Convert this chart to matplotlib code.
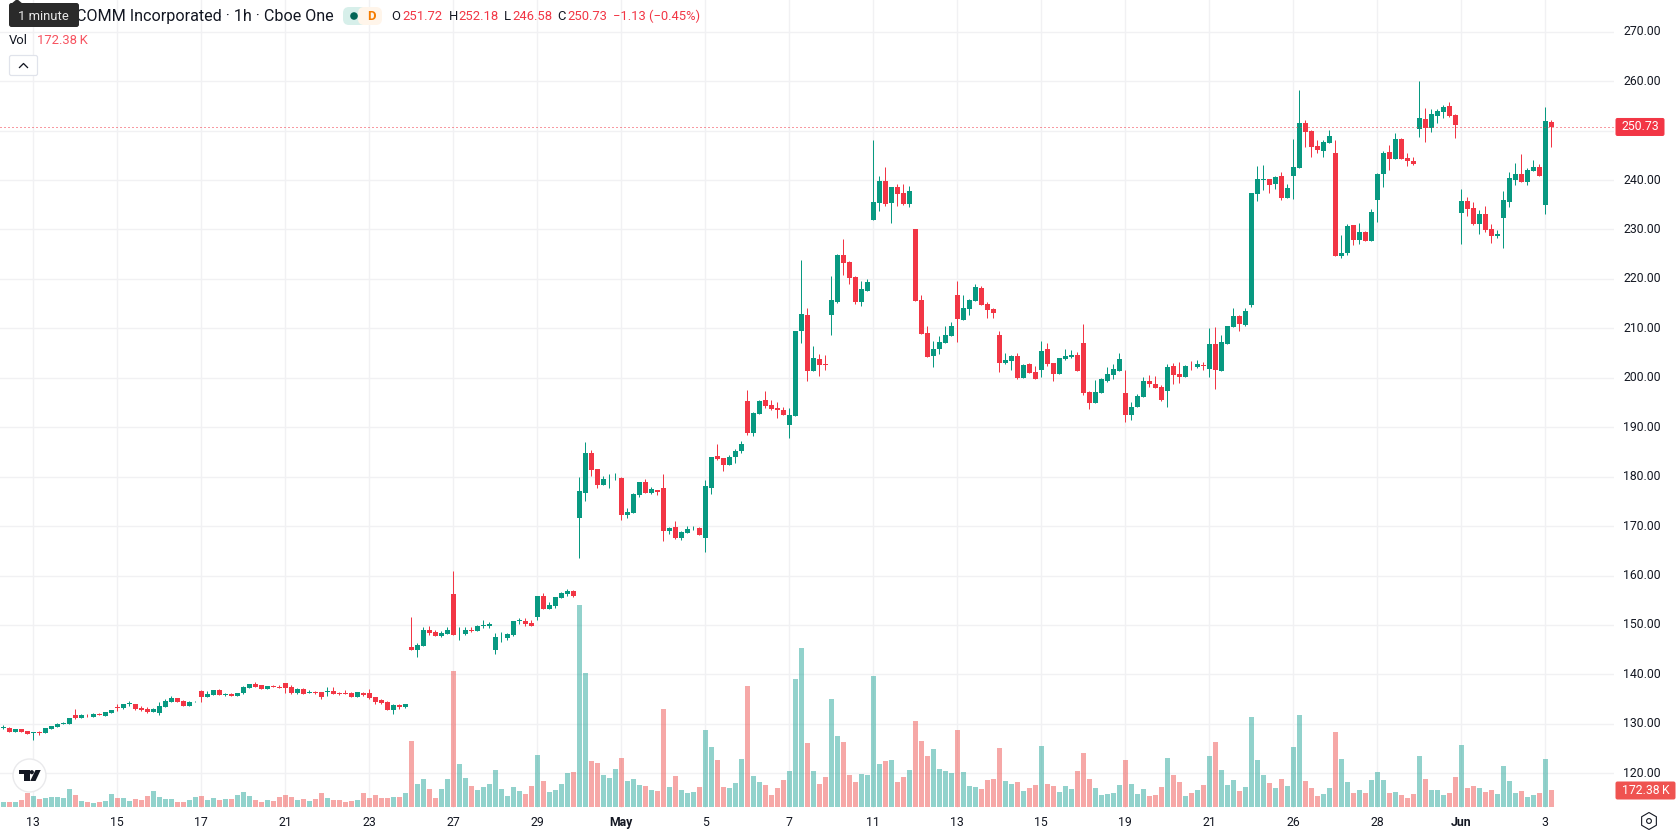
import matplotlib
matplotlib.use("Agg")
import matplotlib.pyplot as plt
from matplotlib.patches import Rectangle, FancyBboxPatch, Circle, Polygon, RegularPolygon
import numpy as np

plt.rcParams['font.family'] = ['Roboto', 'DejaVu Sans']

# hourly bars, oldest first
opens = [
    129.2, 129.2, 128.33, 128.87, 128.47, 128.13, 128.27, 128.13, 128.87, 129.27,
    129.93, 130.07, 131.87, 131.27, 131.87, 131.47, 132.07, 131.67, 132.27, 133.4,
    133.27, 134.0, 134.07, 133.27, 133.07, 132.47, 132.27, 133.47, 134.47, 135.27,
    134.67, 133.67, 134.33, 136.67, 135.47, 135.87, 136.87, 135.93, 136.07, 135.67,
    136.27, 137.27, 138.07, 137.87, 137.07, 137.67, 137.47, 138.27, 137.47, 136.27,
    137.07, 136.27, 136.47, 136.47, 136.53, 136.67, 136.27, 136.27, 136.27, 135.47,
    136.27, 136.27, 135.47, 134.87, 134.47, 132.87, 133.87, 133.47, 145.62, 145.0,
    145.8, 149.06, 148.65, 147.84, 148.25, 156.34, 148.3, 148.25, 149.06, 148.85,
    149.87, 149.87, 145.0, 147.5, 147.44, 148.04, 150.8, 150.88, 150.47, 151.69,
    155.93, 153.3, 153.91, 155.53, 156.34, 156.95, 171.71, 176.77, 184.86, 181.63,
    178.39, 179.47, 179.67, 179.8, 172.32, 172.72, 176.37, 179.0, 176.77, 177.38,
    177.78, 169.08, 169.89, 167.67, 168.68, 169.55, 169.69, 167.67, 177.78, 184.26,
    183.85, 182.43, 184.05, 185.27, 195.21, 188.74, 192.58, 195.41, 194.4, 193.8,
    193.39, 190.36, 192.18, 209.37, 212.61, 201.28, 203.71, 202.7, 212.61, 215.24,
    224.75, 223.33, 220.3, 215.24, 217.46, 231.83, 235.27, 239.72, 235.27, 238.5,
    237.29, 235.06, 230.0, 215.64, 208.97, 204.32, 205.73, 206.95, 208.36, 216.66,
    211.6, 213.82, 215.44, 218.07, 214.83, 213.82, 208.56, 202.9, 203.3, 204.32,
    199.87, 202.7, 201.08, 201.48, 205.73, 202.9, 200.67, 203.71, 204.11, 204.52,
    206.95, 197.03, 194.81, 196.83, 199.26, 200.47, 201.28, 196.83, 192.38, 194.0,
    196.02, 199.26, 198.65, 198.04, 197.24, 202.29, 200.67, 200.07, 202.2, 202.09,
    202.5, 201.69, 206.74, 201.28, 206.74, 210.18, 212.41, 210.59, 214.63, 237.09,
    239.92, 240.12, 239.11, 240.73, 236.28, 240.73, 242.35, 251.45, 249.83, 246.8,
    245.79, 247.4, 245.38, 224.55, 225.15, 230.82, 227.78, 229.4, 227.58, 235.87,
    241.13, 245.58, 244.17, 248.21, 244.37, 243.76, 250.24, 252.26, 250.44, 252.87,
    253.67, 254.89, 253.07, 233.24, 235.67, 234.25, 231.02, 233.04, 230.01, 228.59,
    232.23, 235.47, 239.92, 241.13, 239.51, 241.74, 242.55, 234.86, 251.72,
]
highs = [
    129.67, 129.4, 128.87, 128.87, 128.47, 128.27, 128.6, 129.07, 129.6, 130.27,
    130.47, 131.27, 133.07, 132.07, 132.07, 132.27, 132.2, 132.47, 132.87, 134.07,
    134.07, 134.53, 134.07, 133.67, 133.47, 133.27, 134.47, 135.07, 135.67, 135.27,
    134.87, 134.67, 134.67, 136.87, 136.67, 136.87, 137.07, 136.27, 136.27, 136.27,
    137.67, 138.07, 138.47, 137.87, 137.67, 137.87, 137.87, 138.27, 137.87, 137.27,
    137.27, 136.87, 136.67, 136.47, 137.47, 137.47, 136.47, 136.87, 136.47, 136.47,
    136.47, 137.07, 135.47, 135.07, 134.67, 134.07, 134.07, 134.07, 151.69, 146.4,
    149.66, 149.87, 149.06, 148.85, 149.66, 161.0, 149.66, 149.66, 149.66, 150.07,
    151.08, 150.67, 148.45, 148.65, 148.45, 150.88, 151.48, 151.48, 151.08, 155.93,
    156.54, 154.72, 155.73, 156.74, 157.35, 157.15, 180.0, 187.09, 185.47, 181.63,
    180.2, 180.61, 180.82, 180.0, 173.74, 176.77, 179.0, 179.6, 177.98, 177.38,
    180.61, 169.89, 171.11, 169.08, 170.09, 170.09, 169.89, 179.4, 184.05, 186.68,
    183.85, 184.46, 185.67, 187.29, 197.44, 192.99, 195.41, 197.24, 195.41, 195.01,
    194.0, 193.8, 209.37, 223.74, 214.03, 206.34, 204.72, 204.52, 220.5, 224.95,
    227.98, 223.53, 220.5, 219.49, 219.89, 248.01, 240.73, 242.55, 238.5, 239.11,
    239.11, 238.71, 230.0, 216.66, 210.38, 207.35, 208.36, 210.38, 211.19, 219.49,
    216.66, 215.85, 218.88, 218.48, 215.24, 214.03, 209.37, 204.92, 204.52, 204.92,
    202.7, 202.9, 202.29, 207.35, 206.95, 202.9, 203.91, 205.73, 205.53, 205.12,
    210.79, 197.24, 199.46, 199.87, 202.09, 202.7, 204.92, 201.48, 195.01, 196.63,
    200.07, 200.47, 200.27, 198.45, 202.7, 202.9, 203.1, 202.49, 203.3, 203.51,
    203.1, 209.98, 210.18, 208.56, 210.38, 214.03, 212.61, 214.03, 237.29, 242.75,
    242.95, 240.12, 240.73, 241.54, 239.11, 248.21, 258.13, 252.06, 250.03, 248.01,
    248.01, 250.03, 248.01, 228.79, 231.02, 230.82, 231.22, 229.6, 234.05, 241.33,
    245.79, 247.0, 249.43, 248.41, 245.38, 244.57, 259.95, 254.48, 254.28, 254.28,
    255.09, 255.7, 253.27, 238.1, 236.48, 235.47, 233.85, 234.66, 231.02, 229.8,
    237.69, 241.54, 243.36, 245.18, 242.35, 243.96, 243.16, 254.69, 252.18,
]
lows = [
    128.87, 128.33, 128.33, 128.33, 127.93, 126.73, 127.73, 128.13, 128.87, 129.27,
    129.93, 130.07, 131.0, 131.27, 131.47, 131.47, 131.73, 131.67, 132.27, 132.67,
    133.07, 133.67, 132.87, 132.67, 132.27, 132.47, 131.87, 133.47, 134.47, 134.47,
    133.67, 133.67, 134.33, 134.47, 135.47, 135.87, 135.87, 135.67, 135.67, 135.67,
    136.07, 137.27, 137.47, 137.07, 137.07, 137.47, 137.27, 136.27, 136.07, 136.07,
    136.07, 136.27, 136.07, 135.07, 135.67, 136.07, 135.87, 136.07, 135.47, 135.47,
    135.67, 135.07, 134.07, 134.07, 132.87, 132.07, 133.07, 133.27, 145.0, 143.6,
    145.8, 148.04, 147.84, 147.64, 148.25, 148.04, 147.03, 148.04, 148.65, 148.85,
    149.46, 149.46, 144.2, 146.63, 147.03, 147.84, 150.27, 149.87, 149.87, 151.08,
    153.3, 153.3, 153.51, 155.53, 155.93, 155.73, 163.62, 175.15, 180.2, 177.78,
    178.39, 177.78, 179.4, 171.31, 171.71, 172.72, 175.96, 176.77, 176.57, 176.37,
    167.06, 168.48, 167.46, 167.26, 168.68, 169.28, 168.27, 164.83, 176.57, 183.45,
    181.22, 182.43, 182.84, 184.86, 188.33, 188.13, 192.58, 193.8, 193.39, 191.77,
    192.38, 187.73, 192.18, 206.95, 199.26, 201.28, 200.27, 201.48, 208.56, 215.04,
    220.7, 218.88, 214.83, 214.43, 217.46, 231.83, 233.65, 234.66, 231.22, 234.66,
    234.86, 234.46, 215.44, 208.77, 204.11, 202.09, 204.72, 206.95, 208.36, 207.15,
    211.6, 212.61, 215.44, 214.63, 212.0, 212.0, 201.08, 202.7, 201.48, 199.66,
    199.87, 200.88, 199.66, 200.07, 202.29, 199.26, 200.67, 203.51, 203.91, 201.28,
    196.43, 193.59, 194.81, 196.83, 199.06, 199.66, 201.28, 190.96, 191.37, 194.0,
    196.02, 198.04, 197.84, 195.21, 194.0, 198.65, 198.85, 200.07, 201.48, 201.89,
    201.48, 200.07, 197.64, 201.28, 206.74, 210.18, 209.37, 210.38, 214.23, 235.67,
    237.9, 237.29, 238.1, 235.87, 236.28, 236.08, 242.35, 246.6, 244.57, 245.38,
    244.57, 247.4, 224.55, 224.14, 224.75, 226.77, 226.97, 227.58, 227.58, 231.42,
    238.5, 241.94, 244.17, 244.17, 242.75, 242.95, 248.62, 247.61, 249.63, 251.45,
    252.46, 252.66, 248.41, 226.97, 232.64, 230.82, 229.0, 229.4, 227.18, 228.19,
    226.16, 234.46, 238.91, 239.51, 238.91, 241.74, 240.73, 233.04, 246.58,
]
closes = [
    129.3, 128.33, 128.87, 128.33, 127.93, 128.27, 128.13, 129.07, 129.47, 130.07,
    130.27, 131.27, 131.2, 131.87, 131.73, 132.07, 131.73, 132.47, 132.87, 133.27,
    134.07, 134.13, 133.07, 132.87, 132.47, 133.07, 133.67, 134.67, 135.27, 134.47,
    133.67, 134.47, 134.47, 135.47, 136.07, 136.87, 135.87, 136.07, 135.67, 136.27,
    137.47, 138.07, 137.47, 137.07, 137.67, 137.47, 137.27, 137.27, 136.27, 137.07,
    136.07, 136.47, 136.27, 135.47, 136.67, 136.07, 136.07, 136.07, 135.47, 136.47,
    135.87, 135.27, 134.47, 134.27, 132.87, 133.87, 133.47, 134.07, 145.01, 146.0,
    149.06, 148.45, 147.84, 148.45, 149.06, 148.04, 148.45, 149.06, 148.85, 149.87,
    150.0, 150.27, 147.64, 147.64, 148.25, 150.88, 150.94, 150.27, 149.87, 155.93,
    153.3, 154.11, 155.73, 156.54, 156.95, 155.93, 177.17, 184.86, 181.42, 178.39,
    179.6, 179.6, 179.8, 172.32, 172.93, 176.57, 179.0, 176.77, 177.58, 176.97,
    169.08, 169.69, 167.67, 168.88, 169.49, 169.69, 168.27, 178.19, 184.05, 183.65,
    182.43, 184.05, 185.27, 186.68, 188.74, 192.78, 195.21, 194.2, 193.59, 193.39,
    192.38, 192.38, 209.37, 212.81, 201.28, 203.91, 202.49, 202.49, 215.64, 224.75,
    223.13, 220.09, 215.24, 217.87, 219.29, 235.47, 239.72, 235.06, 238.5, 237.09,
    235.06, 237.69, 215.44, 208.77, 204.11, 205.73, 207.15, 208.56, 210.38, 211.8,
    214.03, 215.64, 218.27, 214.63, 213.62, 213.01, 202.9, 203.51, 204.32, 199.87,
    202.49, 200.88, 199.66, 205.33, 202.7, 200.67, 203.91, 204.32, 204.52, 201.28,
    196.83, 194.81, 197.03, 199.66, 200.67, 201.69, 203.71, 192.38, 194.0, 196.22,
    199.26, 198.65, 197.84, 195.41, 202.09, 200.47, 200.07, 202.29, 202.09, 202.7,
    202.36, 206.74, 201.48, 207.15, 210.38, 212.41, 210.79, 213.42, 237.29, 240.12,
    240.12, 238.91, 240.53, 236.28, 238.3, 242.55, 251.45, 249.63, 246.6, 245.99,
    247.61, 248.82, 224.55, 225.15, 230.61, 227.78, 229.4, 227.58, 233.45, 241.13,
    245.38, 244.17, 248.21, 244.17, 243.76, 243.16, 252.46, 250.44, 253.27, 253.88,
    254.69, 252.87, 251.05, 235.67, 234.05, 231.02, 233.04, 229.8, 228.59, 229.0,
    235.87, 240.32, 241.13, 239.51, 241.94, 242.55, 240.73, 251.85, 250.73,
]
# volume per bar, thousands
volumes = [
    51, 51, 51, 71, 142, 112, 81, 91, 101, 101,
    91, 183, 122, 61, 51, 41, 51, 61, 132, 91,
    91, 61, 81, 71, 112, 162, 101, 81, 81, 51,
    51, 71, 101, 112, 71, 91, 71, 81, 81, 122,
    152, 112, 71, 51, 71, 61, 101, 122, 101, 71,
    81, 61, 81, 142, 91, 71, 71, 51, 61, 71,
    142, 91, 122, 91, 91, 101, 101, 142, 669, 233,
    284, 183, 91, 183, 284, 1379, 436, 294, 213, 172,
    203, 233, 375, 183, 112, 203, 162, 132, 213, 527,
    264, 152, 172, 233, 345, 355, 2048, 1359, 466, 446,
    324, 294, 385, 497, 264, 284, 223, 213, 172, 162,
    994, 203, 314, 172, 142, 152, 203, 781, 608, 477,
    203, 193, 243, 487, 1227, 314, 254, 223, 122, 193,
    274, 365, 1298, 1612, 649, 365, 233, 304, 1095, 720,
    659, 324, 254, 335, 324, 1328, 436, 466, 477, 254,
    304, 375, 872, 669, 517, 588, 385, 365, 345, 781,
    355, 213, 203, 183, 274, 284, 598, 264, 233, 254,
    162, 193, 223, 619, 233, 213, 152, 213, 183, 365,
    548, 284, 193, 122, 132, 142, 223, 477, 233, 132,
    183, 112, 122, 203, 497, 324, 254, 112, 142, 172,
    223, 517, 659, 375, 223, 274, 162, 203, 913, 477,
    324, 243, 193, 284, 213, 608, 933, 264, 193, 112,
    132, 193, 761, 487, 254, 142, 172, 142, 274, 355,
    274, 142, 152, 122, 91, 132, 517, 284, 172, 172,
    122, 142, 304, 629, 193, 213, 193, 152, 172, 132,
    416, 264, 142, 162, 101, 122, 142, 487, 172.38,
]

price_ticks = [120, 130, 140, 150, 160, 170, 180, 190, 200, 210, 220, 230, 240, 250, 260, 270]
time_tick_labels = ['13', '15', '17', '21', '23', '27', '29', 'May', '5', '7', '11', '13',
                    '15', '19', '21', '26', '28', 'Jun', '3']
first_time_tick = 5
bars_per_tick = 14

GREEN = '#089981'
RED = '#F23645'
VOL_GREEN = '#26A69A'
VOL_RED = '#EF5350'
TEXT = '#131722'
GRID = '#F1F1F3'

W, H = 1678, 835
PLOT_R, PLOT_B = 1614, 808
BAR_PX = 6.0


def px(n):
    return n * 0.72


opens = np.array(opens)
highs = np.array(highs)
lows = np.array(lows)
closes = np.array(closes)
volumes = np.array(volumes)
idx = np.arange(len(closes))
up = closes >= opens
colors = np.where(up, GREEN, RED)
vol_colors = np.where(up, VOL_GREEN, VOL_RED)

fig = plt.figure(figsize=(W / 100, H / 100), dpi=100)
pos = [0, 1 - PLOT_B / H, PLOT_R / W, PLOT_B / H]
ax = fig.add_axes(pos)

ax.set_xlim(-3.3 / BAR_PX, (PLOT_R - 3.3) / BAR_PX)
ax.set_ylim(270 - (PLOT_B - 31.7) / 4.944, 270 + 31.7 / 4.944)

# candles
body_w = 5 / BAR_PX
ax.vlines(idx, lows, highs, colors=colors, linewidth=px(1), zorder=3)
ax.bar(idx, np.abs(closes - opens), bottom=np.minimum(opens, closes), width=body_w,
       color=colors, linewidth=0, zorder=4)

ax.axhline(closes[-1], color=RED, linewidth=px(1), linestyle=(0, (1, 3)), zorder=5)

# axes and grid
tick_pos = [first_time_tick + bars_per_tick * i for i in range(len(time_tick_labels))]
ax.set_xticks(tick_pos)
ax.set_xticklabels(time_tick_labels)
ax.set_yticks(price_ticks)
ax.set_yticklabels(['' if p == 250 else '%.2f' % p for p in price_ticks])
ax.yaxis.tick_right()
ax.grid(True, color=GRID, linewidth=px(1.4), zorder=0)
ax.set_axisbelow(True)
ax.tick_params(axis='both', length=0, labelsize=px(12.2), labelcolor=TEXT)
ax.tick_params(axis='x', pad=px(8))
ax.tick_params(axis='y', pad=px(9))
for s in ax.spines.values():
    s.set_visible(False)
for lab in ax.get_yticklabels():
    lab.set_verticalalignment('center')
for lab, txt in zip(ax.get_xticklabels(), time_tick_labels):
    if txt in ('May', 'Jun'):
        lab.set_fontweight('bold')

# volume pane shares the x axis, 172.38K is 17px tall
ax_vol = fig.add_axes(pos, sharex=ax)
k_per_px = 172.38 / 17
ax_vol.set_ylim(-k_per_px, (PLOT_B - 1) * k_per_px)
ax_vol.bar(idx, volumes, width=body_w, color=vol_colors, alpha=0.5, linewidth=0)
ax_vol.axis('off')

# overlay in pixel coordinates for the chart furniture
over = fig.add_axes([0, 0, 1, 1], zorder=10)
over.set_xlim(0, W)
over.set_ylim(H, 0)
over.axis('off')


def y_of(axes, value):
    return H - axes.transData.transform((0, value))[1]


def t(x, y, s, color=TEXT, size=13, **kw):
    kw.setdefault('va', 'center')
    over.text(x, y, s, color=color, fontsize=px(size), **kw)


# last price and last volume labels
yc = y_of(ax, closes[-1])
over.add_patch(FancyBboxPatch((1616, yc - 8.5), 48, 17, boxstyle='round,pad=0,rounding_size=1.5',
                              fc=RED, ec=RED, lw=px(1)))
t(1640, yc - 0.5, '%.2f' % closes[-1], color='white', size=12.2, ha='center')
over.add_patch(FancyBboxPatch((1616, 782), 59, 17, boxstyle='round,pad=0,rounding_size=1.5',
                              fc=VOL_RED, ec=VOL_RED, lw=px(1)))
t(1645.5, 790, '172.38\u2009K', color='white', size=12.2, ha='center')

# legend row
t(76, 16.5, 'COMM Incorporated \u00b7 1h \u00b7 Cboe One', size=16.1)
over.add_patch(FancyBboxPatch((343, 7), 24, 18, boxstyle='round,pad=0,rounding_size=6',
                              fc='#D7EFEA', ec='none'))
over.add_patch(Rectangle((355, 7), 8, 18, fc='#D7EFEA', ec='none'))
over.add_patch(FancyBboxPatch((358, 7), 24, 18, boxstyle='round,pad=0,rounding_size=6',
                              fc='#FFF5EA', ec='none'))
over.add_patch(Rectangle((363, 7), 10, 18, fc='#FFF5EA', ec='none'))
over.add_patch(Circle((354, 16), 3.8, fc='#056656', ec='none'))
t(371.5, 16.5, 'D', color='#F57C00', size=13, ha='center', fontweight='bold')

ohlc_labels = [(391, 'O', 402, '251.72'), (448.5, 'H', 458, '252.18'),
               (504, 'L', 512, '246.58'), (557, 'C', 567, '250.73')]
for x0, name, x1, val in ohlc_labels:
    t(x0, 16.5, name)
    t(x1, 16.5, val, color=RED)
t(613, 16.5, '\u22121.13 (\u22120.45%)', color=RED)

t(9, 40.5, 'Vol')
t(37, 40.5, '172.38\u2009K', color='#F7525F')

over.add_patch(FancyBboxPatch((9.5, 55.5), 28, 20, boxstyle='round,pad=0,rounding_size=2',
                              fc='white', ec='#E0E3EB', lw=px(1.2)))
over.plot([19.5, 23.5, 27.5], [67.5, 63.5, 67.5], color=TEXT, lw=px(1.3))

# tooltip over the start of the title
over.add_patch(FancyBboxPatch((9, 3), 70, 24, boxstyle='round,pad=0,rounding_size=2.5',
                              fc='#2A2A2A', ec='none', zorder=6))
over.add_patch(Polygon([(11, 4), (17, -1), (23, 4)], fc='#2A2A2A', ec='none', zorder=6))
t(43, 16, '1 minute', color='#E8E8E8', size=13, ha='center', zorder=7)

# logo badge
over.add_patch(Circle((29.5, 775.5), 16.5, fc='white', ec='#EAEAEC', lw=px(1.4)))
over.add_patch(Polygon([(19, 770), (30, 770), (30, 781), (24, 781), (24, 774), (19, 774)],
                       fc='#131722', ec='none'))
over.add_patch(Circle((31.8, 772.2), 2.1, fc='#131722', ec='none'))
over.add_patch(Polygon([(35.5, 770), (40.7, 770), (35.5, 781), (30.2, 781)], fc='#131722', ec='none'))

# settings icon in the corner
over.add_patch(RegularPolygon((1649, 821), 6, radius=8.5, fc='white', ec=TEXT, lw=px(1.1)))
over.add_patch(Circle((1649, 821), 2.4, fc='white', ec=TEXT, lw=px(1.1)))

fig.savefig('out.png', dpi=100)
